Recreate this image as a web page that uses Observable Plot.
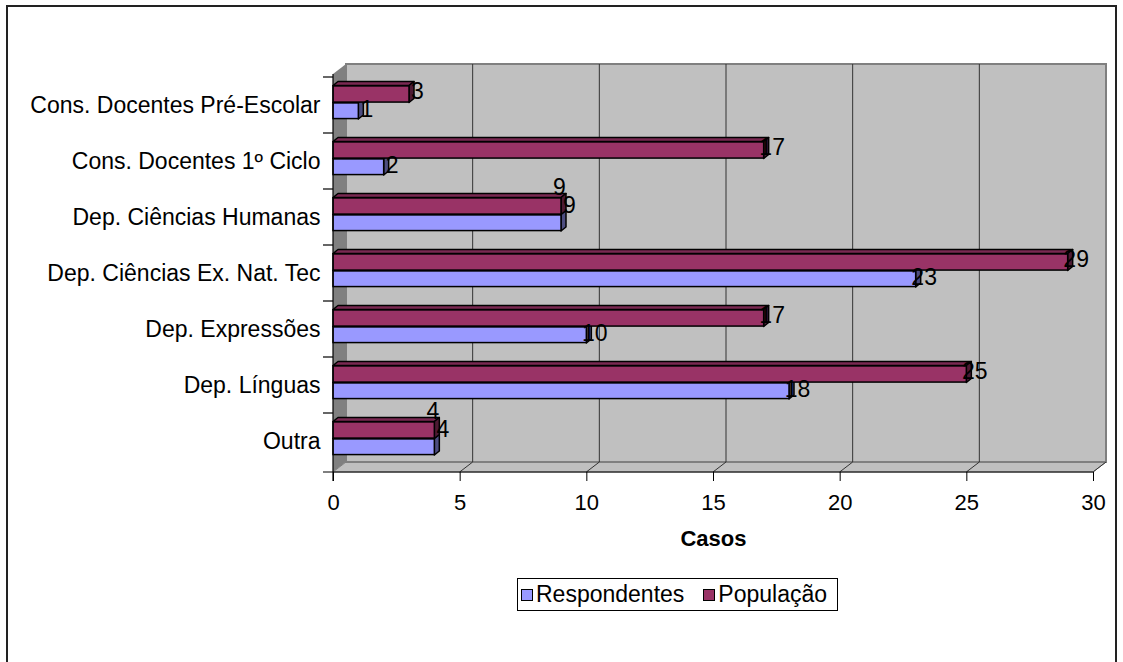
<!DOCTYPE html>
<html><head><meta charset="utf-8">
<script src="https://cdn.jsdelivr.net/npm/d3@7"></script>
<script src="https://cdn.jsdelivr.net/npm/@observablehq/plot@0.6"></script>
<style>
html,body{margin:0;padding:0;background:#fff;overflow:hidden;font-family:"Liberation Sans",Arial,sans-serif;}
#border{position:absolute;left:6px;top:5px;width:1111px;height:720px;border:2px solid #222;box-sizing:border-box;}
#chart{position:absolute;left:0;top:0;}
#legend{position:absolute;left:517px;top:578px;height:33px;border:1px solid #000;box-sizing:border-box;display:flex;align-items:center;padding:0 10px 0 3px;font-size:23px;color:#000;background:#fff;white-space:nowrap;}
.sw{display:inline-block;width:10px;height:10px;border:1px solid #000;margin:0 3px 0 0;}
.item{display:flex;align-items:center;margin-right:19px;}
.item:last-child{margin-right:0;}
</style>
</head><body>
<div id="border"></div>
<div id="chart"></div>
<div id="legend"></div>
<script>
const categories = ["Cons. Docentes Pré-Escolar","Cons. Docentes 1º Ciclo","Dep. Ciências Humanas","Dep. Ciências Ex. Nat. Tec","Dep. Expressões","Dep. Línguas","Outra"];
const respondentes = [1, 2, 9, 23, 10, 18, 4];
const populacao = [3, 17, 9, 29, 17, 25, 4];
const xTicks = [0, 5, 10, 15, 20, 25, 30];
const seriesNames = ["Respondentes", "População"];
const seriesColors = ["#9999FF", "#993366"];
const seriesTop = ["#7a7acc", "#7a2952"];
const seriesSide = ["#4d4d80", "#4d1a33"];
const xTitle = "Casos";

const WDX = 13, WDY = -10;   // wall depth offset
const BDX = 5, BDY = -4;     // bar depth offset
const POP_TOP = -19.5, MID = -2.5, RESP_BOT = 14; // bar offsets from band centre
const BAR_STROKE = 1.5;

const respRows = categories.map((cat, i) => ({cat, value: respondentes[i], other: populacao[i]}));
const popRows = categories.map((cat, i) => ({cat, value: populacao[i], other: respondentes[i]}));

function walls(index, {x, y}) {
  const g = d3.create("svg:g");
  const x0 = x(xTicks[0]), x1 = x(xTicks[xTicks.length - 1]);
  const [yt, yb] = y.range();
  g.append("path").attr("d", `M${x0},${yt}L${x0+WDX},${yt+WDY}L${x0+WDX},${yb+WDY}L${x0},${yb}Z`).attr("fill", "#808080");
  g.append("path").attr("d", `M${x0},${yb}L${x0+WDX},${yb+WDY}L${x1+WDX},${yb+WDY}L${x1},${yb}Z`).attr("fill", "#c0c0c0").attr("stroke", "#808080");
  g.append("rect").attr("x", x0 + WDX).attr("y", yt + WDY).attr("width", x1 - x0).attr("height", yb - yt)
    .attr("fill", "#c0c0c0").attr("stroke", "#808080").attr("stroke-width", 2);
  for (const t of xTicks.slice(1)) {
    const xt = x(t);
    if (t !== xTicks[xTicks.length - 1])
      g.append("line").attr("x1", xt + WDX).attr("x2", xt + WDX).attr("y1", yt + WDY).attr("y2", yb + WDY).attr("stroke", "#333");
    g.append("line").attr("x1", xt + WDX).attr("y1", yb + WDY).attr("x2", xt).attr("y2", yb).attr("stroke", "#333");
  }
  return g.node();
}

function axisLines(index, {x, y}) {
  const g = d3.create("svg:g").attr("stroke", "#000").attr("stroke-width", 1.2);
  const x0 = x(xTicks[0]), x1 = x(xTicks[xTicks.length - 1]);
  const [yt, yb] = y.range();
  g.append("line").attr("x1", x0).attr("x2", x0).attr("y1", yt).attr("y2", yb + 9);
  g.append("line").attr("x1", x0 - 10).attr("x2", x1).attr("y1", yb).attr("y2", yb);
  for (const c of categories) {
    const yy = y(c);
    g.append("line").attr("x1", x0 - 10).attr("x2", x0).attr("y1", yy).attr("y2", yy);
  }
  return g.node();
}

function faces3d(vals, top, side, offTop, offBot) {
  return (index, {x, y}) => {
    const g = d3.create("svg:g").attr("stroke", "#000").attr("stroke-width", BAR_STROKE).attr("stroke-linejoin", "round");
    const bw = y.bandwidth();
    categories.forEach((cat, i) => {
      const c = y(cat) + bw / 2;
      const y0 = c + offTop, y1 = c + offBot;
      const xa = x(0), xb = x(vals[i]);
      g.append("path").attr("fill", top)
        .attr("d", `M${xa},${y0}L${xa+BDX},${y0+BDY}L${xb+BDX},${y0+BDY}L${xb},${y0}Z`);
      g.append("path").attr("fill", side)
        .attr("d", `M${xb},${y0}L${xb+BDX},${y0+BDY}L${xb+BDX},${y1+BDY}L${xb},${y1}Z`);
    });
    return g.node();
  };
}

const half = 398 / categories.length / 2;

const plot = Plot.plot({
  width: 1123,
  height: 560,
  marginLeft: 333,
  marginRight: 30,
  marginTop: 74,
  marginBottom: 88,
  style: {fontFamily: "'Liberation Sans', Arial, sans-serif", fontSize: "22px", color: "#000", background: "transparent", overflow: "visible"},
  x: {domain: [xTicks[0], xTicks[xTicks.length - 1]]},
  y: {type: "band", domain: categories, padding: 0},
  marks: [
    walls,
    faces3d(respondentes, seriesTop[0], seriesSide[0], MID, RESP_BOT),
    Plot.barX(respRows, {x: "value", y: "cat", fill: seriesColors[0], stroke: "#000", strokeWidth: BAR_STROKE, insetTop: half + MID, insetBottom: half - RESP_BOT}),
    faces3d(populacao, seriesTop[1], seriesSide[1], POP_TOP, MID),
    Plot.barX(popRows, {x: "value", y: "cat", fill: seriesColors[1], stroke: "#000", strokeWidth: BAR_STROKE, insetTop: half + POP_TOP, insetBottom: half - MID}),
    Plot.text(popRows.filter(d => d.value !== d.other), {x: "value", y: "cat", text: d => String(d.value), dx: 8, dy: -13.5, fontSize: 23, fill: "#000"}),
    Plot.text(respRows.filter(d => d.value !== d.other), {x: "value", y: "cat", text: d => String(d.value), dx: 8, dy: 4, fontSize: 23, fill: "#000"}),
    Plot.text(popRows.filter(d => d.value === d.other), {x: "value", y: "cat", text: d => String(d.value), dx: 8, dy: -11.5, fontSize: 23, fill: "#000"}),
    Plot.text(respRows.filter(d => d.value === d.other), {x: "value", y: "cat", text: d => String(d.value), dx: -2, dy: -30, fontSize: 23, fill: "#000"}),
    axisLines,
    Plot.axisX({ticks: xTicks, tickSize: 9, tickPadding: 13, fontSize: 22, label: null, stroke: "#000"}),
    Plot.axisY({tickSize: 0, tickPadding: 13, fontSize: 23, label: null}),
    Plot.text([xTitle], {frameAnchor: "bottom", dy: 73, fontSize: 22, fontWeight: "bold", fill: "#000"})
  ]
});
document.getElementById("chart").appendChild(plot);

const legend = document.getElementById("legend");
seriesNames.forEach((name, i) => {
  const item = document.createElement("span");
  item.className = "item";
  const sw = document.createElement("span");
  sw.className = "sw";
  sw.style.background = seriesColors[i];
  item.appendChild(sw);
  item.appendChild(document.createTextNode(name));
  legend.appendChild(item);
});
</script>
</body></html>
